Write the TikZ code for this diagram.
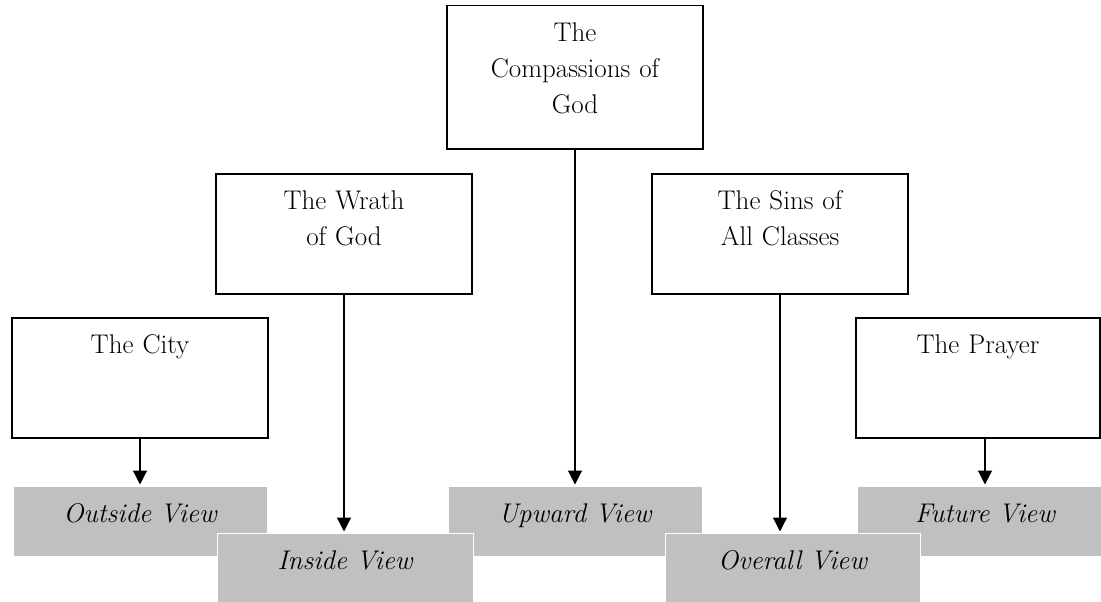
\documentclass[tikz,border=0pt]{standalone}
\usepackage{fontspec}
\usepackage{tikz}
\usetikzlibrary{arrows.meta,positioning,calc}
\definecolor{viewgray}{RGB}{192,192,192}

\begin{document}
\begin{tikzpicture}[x=1pt, y=1pt, >={Triangle[length=14pt,width=14pt]},
    part/.style={rectangle, draw=black, line width=1.5pt, fill=white, inner sep=0pt, anchor=north, text width=256pt, align=center, text height=36pt, text depth=84pt, font=\fontsize{27}{36}\selectfont},
    view/.style={rectangle, draw=white, line width=1pt, fill=viewgray, inner sep=0pt, anchor=north, text width=256pt, align=center, text height=36pt, text depth=34pt, font=\fontsize{27}{36}\selectfont\itshape},
    link/.style={->, line width=1.2pt, shorten >=1.5pt}]
    \useasboundingbox (0,0) rectangle (1101,-602);
    \clip (0,0) rectangle (1101,-602);

    % Parts of the poem
    \node[part, text depth=107pt] (comp) at (575,-5) {The\\Compassions of\\God};
    \node[part] (wrath) at (344,-173) {The Wrath\\of God};
    \node[part] (sins) at (780,-173) {The Sins of\\All Classes};
    \node[part] (city) at (140,-317) {The City};
    \node[part, text width=244pt] (prayer) at (978,-317) {The Prayer};

    % Views, back row
    \node[view, text width=254pt] (outv) at (140,-486) {Outside View};
    \node[view, text width=254pt] (upv) at (575,-486) {Upward View};
    \node[view] (futv) at (985,-486) {Future View};
    % Views, front row
    \node[view] (inv) at (345,-533) {Inside View};
    \node[view, text width=255pt] (ovv) at (792.5,-533) {Overall View};

    % Arrows
    \draw[link] (city.south) -- (outv.north);
    \draw[link] (wrath.south) -- (wrath.south |- inv.north);
    \draw[link] (comp.south) -- (upv.north);
    \draw[link] (sins.south) -- (sins.south |- ovv.north);
    \draw[link] (prayer.south -| futv.north) -- (futv.north);
\end{tikzpicture}
\end{document}
